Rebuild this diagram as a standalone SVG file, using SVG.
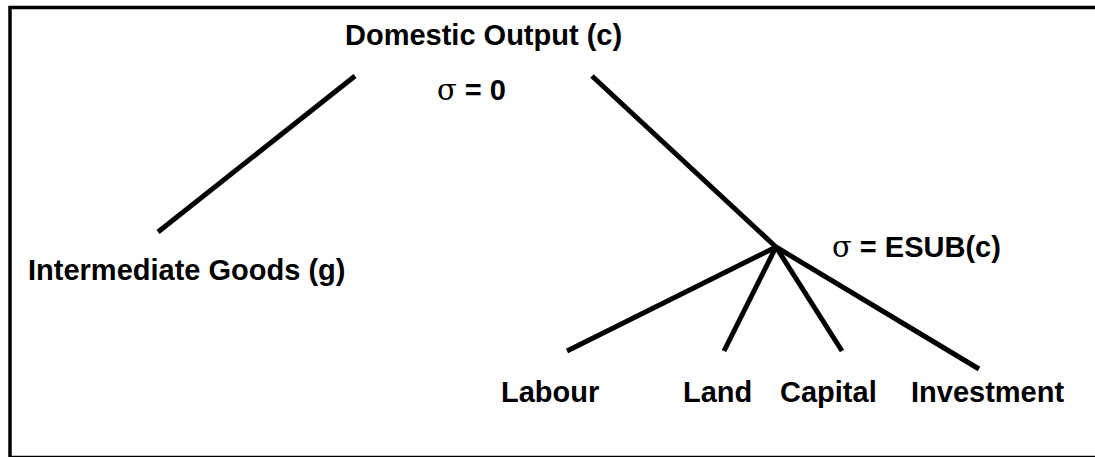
<svg xmlns="http://www.w3.org/2000/svg" width="1095" height="457" viewBox="0 0 1095 457">
<style>
.lbl{font-family:"Liberation Sans",Arial,sans-serif;font-weight:bold;font-size:29px;fill:#000}
.sig{font-family:"DejaVu Serif","Liberation Serif",serif;font-weight:normal}
.edge{stroke:#000;stroke-width:5;stroke-linecap:butt;fill:none}
</style>
<rect x="0" y="0" width="1095" height="457" fill="#fff"/>
<rect x="10" y="7.5" width="1100" height="450" fill="none" stroke="#000" stroke-width="3.5"/>
<g id="connectors">
<line class="edge" x1="355" y1="76" x2="158" y2="232"/>
<line class="edge" x1="592" y1="76" x2="776" y2="247"/>
<line class="edge" x1="776" y1="247" x2="567" y2="351"/>
<line class="edge" x1="776" y1="247" x2="724" y2="351"/>
<line class="edge" x1="776" y1="247" x2="842" y2="351"/>
<line class="edge" x1="776" y1="247" x2="979" y2="369"/>
</g>
<g id="domestic-output"><text class="lbl" x="345" y="45">Domestic Output (c)</text></g>
<g id="sigma-top"><text class="lbl" x="437" y="100"><tspan class="sig">σ</tspan> = 0</text></g>
<g id="intermediate-goods"><text class="lbl" x="28" y="280">Intermediate Goods (g)</text></g>
<g id="sigma-esub"><text class="lbl" x="832" y="257"><tspan class="sig">σ</tspan> = ESUB(c)</text></g>
<g id="labour"><text class="lbl" x="501" y="402">Labour</text></g>
<g id="land"><text class="lbl" x="683" y="402">Land</text></g>
<g id="capital"><text class="lbl" x="780" y="402">Capital</text></g>
<g id="investment"><text class="lbl" x="911" y="402">Investment</text></g>
</svg>
